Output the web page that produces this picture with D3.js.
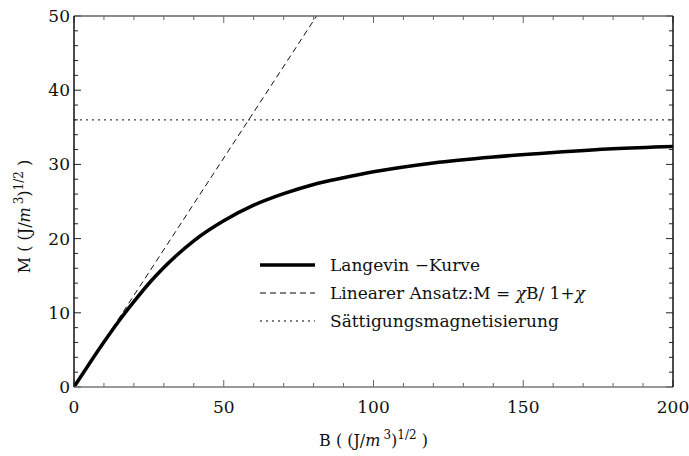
<!DOCTYPE html>
<html>
<head>
<meta charset="utf-8">
<script src="https://cdn.jsdelivr.net/npm/d3@7"></script>
<style>
  body { margin: 0; background: #fff; }
  svg text { fill: #111; font-family: "DejaVu Serif", serif; }
</style>
</head>
<body>
<svg id="chart" width="689" height="456"></svg>
<script>
// Langevin-Kurve, Werte
var langB = [0, 5, 10, 15, 20, 25, 30, 40, 50, 60, 70, 80, 90, 100, 120, 140, 160, 180, 200];
var langM = [0, 3.07, 6.06, 8.9, 11.5, 13.95, 16.1, 19.7, 22.4, 24.5, 26.05, 27.3, 28.2, 29.0, 30.2, 31.0, 31.6, 32.1, 32.4];

// linearer Ansatz
var linB = [0, 81];
var linM = [0, 50];

// Saettigungsmagnetisierung
var satB = [0, 200];
var satM = [36, 36];

var xTicks = [0, 50, 100, 150, 200];
var yTicks = [0, 10, 20, 30, 40, 50];

var svg = d3.select("#chart"),
    margin = {left: 74, top: 16, right: 16, bottom: 69},
    width = +svg.attr("width") - margin.left - margin.right,
    height = +svg.attr("height") - margin.top - margin.bottom;

var x = d3.scaleLinear().domain([0, 200]).range([0, width]);
var y = d3.scaleLinear().domain([0, 50]).range([height, 0]);

var g = svg.append("g").attr("transform", "translate(" + margin.left + "," + margin.top + ")");

g.append("clipPath").attr("id", "clip")
  .append("rect").attr("width", width).attr("height", height);

var line = d3.line()
  .x(function(d) { return x(d[0]); })
  .y(function(d) { return y(d[1]); });

var plot = g.append("g").attr("clip-path", "url(#clip)");

plot.append("path")
  .datum(d3.zip(satB, satM))
  .attr("d", line)
  .attr("fill", "none")
  .attr("stroke", "#111")
  .attr("stroke-width", 1)
  .attr("stroke-dasharray", "2,4");

plot.append("path")
  .datum(d3.zip(linB, linM))
  .attr("d", line)
  .attr("fill", "none")
  .attr("stroke", "#111")
  .attr("stroke-width", 1)
  .attr("stroke-dasharray", "6,4");

plot.append("path")
  .datum(d3.zip(langB, langM))
  .attr("d", line.curve(d3.curveMonotoneX))
  .attr("fill", "none")
  .attr("stroke", "#000")
  .attr("stroke-width", 3.5);

// frame with inward ticks on all sides
var xMinor = d3.range(0, 201, 10).filter(function(v) { return v % 50; });
var yMinor = d3.range(0, 51, 2).filter(function(v) { return v % 10; });

function drawTicks(sel, vals, len, orient) {
  sel.selectAll(null).data(vals).enter().append("line")
    .attr("stroke", orient == "l" || orient == "r" ? "#222" : "#666")
    .attr("stroke-width", 1)
    .attr("x1", function(d) { return orient == "b" || orient == "t" ? x(d) : (orient == "l" ? 0 : width); })
    .attr("x2", function(d) { return orient == "b" || orient == "t" ? x(d) : (orient == "l" ? len : width - len); })
    .attr("y1", function(d) { return orient == "l" || orient == "r" ? y(d) : (orient == "b" ? height : 0); })
    .attr("y2", function(d) { return orient == "l" || orient == "r" ? y(d) : (orient == "b" ? height - len : len); });
}

var ticks = g.append("g");
drawTicks(ticks, xTicks, 7, "b");
drawTicks(ticks, xMinor, 4, "b");
drawTicks(ticks, xTicks, 7, "t");
drawTicks(ticks, xMinor, 4, "t");
drawTicks(ticks, yTicks, 7, "l");
drawTicks(ticks, yMinor, 4, "l");
drawTicks(ticks, yTicks, 7, "r");
drawTicks(ticks, yMinor, 4, "r");

g.append("line").attr("x1", 0).attr("x2", width).attr("y1", height).attr("y2", height)
  .attr("stroke", "#777").attr("stroke-width", 1.5);
g.append("line").attr("x1", 0).attr("x2", width).attr("y1", 0).attr("y2", 0)
  .attr("stroke", "#666").attr("stroke-width", 1.5);
g.append("line").attr("x1", 0).attr("x2", 0).attr("y1", 0).attr("y2", height)
  .attr("stroke", "#111").attr("stroke-width", 1.5);
g.append("line").attr("x1", width).attr("x2", width).attr("y1", 0).attr("y2", height)
  .attr("stroke", "#111").attr("stroke-width", 1.5);

// tick labels
g.selectAll(".xlab").data(xTicks).enter().append("text")
  .attr("x", function(d) { return x(d); })
  .attr("y", height + 26)
  .attr("text-anchor", "middle")
  .style("font-size", "17px")
  .text(function(d) { return d; });

g.selectAll(".ylab").data(yTicks).enter().append("text")
  .attr("x", -4)
  .attr("y", function(d) { return y(d) + 6; })
  .attr("text-anchor", "end")
  .style("font-size", "17px")
  .text(function(d) { return d; });

// axis titles
function unitLabel(t, prefix) {
  t.append("tspan").text(prefix + " ( (J/");
  t.append("tspan").style("font-style", "italic").text("m");
  t.append("tspan").attr("dy", -7).attr("dx", 3).style("font-size", "12px").text("3");
  t.append("tspan").attr("dy", 7).text(")");
  t.append("tspan").attr("dy", -7).style("font-size", "12px").text("1/2");
  t.append("tspan").attr("dy", 7).text(" )");
}

var xt = svg.append("text")
  .attr("x", margin.left + width / 2)
  .attr("y", 446)
  .attr("text-anchor", "middle")
  .style("font-size", "16px");
unitLabel(xt, "B");

var yt = svg.append("text")
  .attr("transform", "translate(30," + (margin.top + height / 2 + 15) + ") rotate(-90)")
  .attr("text-anchor", "middle")
  .style("font-size", "16px");
unitLabel(yt, "M");

// legend
var legend = g.append("g").attr("transform", "translate(" + (260 - margin.left) + "," + (265 - margin.top) + ")");
var styles = [{w: 3.5, dash: null}, {w: 1, dash: "6,4"}, {w: 1, dash: "2,4"}];

var rows = legend.selectAll("g").data(styles).enter().append("g")
  .attr("transform", function(d, i) { return "translate(0," + i * 28 + ")"; });

rows.append("line")
  .attr("x1", 0).attr("x2", 55).attr("y1", 0).attr("y2", 0)
  .attr("stroke", "#000")
  .attr("stroke-width", function(d) { return d.w; })
  .attr("stroke-dasharray", function(d) { return d.dash; });

var labels = rows.append("text")
  .attr("x", 70).attr("y", 6)
  .style("font-size", "17px");

labels.filter(function(d, i) { return i == 0; }).text("Langevin \u2212Kurve");
labels.filter(function(d, i) { return i == 2; }).text("S\u00e4ttigungsmagnetisierung");
var lin = labels.filter(function(d, i) { return i == 1; });
lin.append("tspan").text("Linearer Ansatz:M = ");
lin.append("tspan").style("font-style", "italic").text("\u03c7");
lin.append("tspan").text("B/ 1+");
lin.append("tspan").style("font-style", "italic").text("\u03c7");
</script>
</body>
</html>
